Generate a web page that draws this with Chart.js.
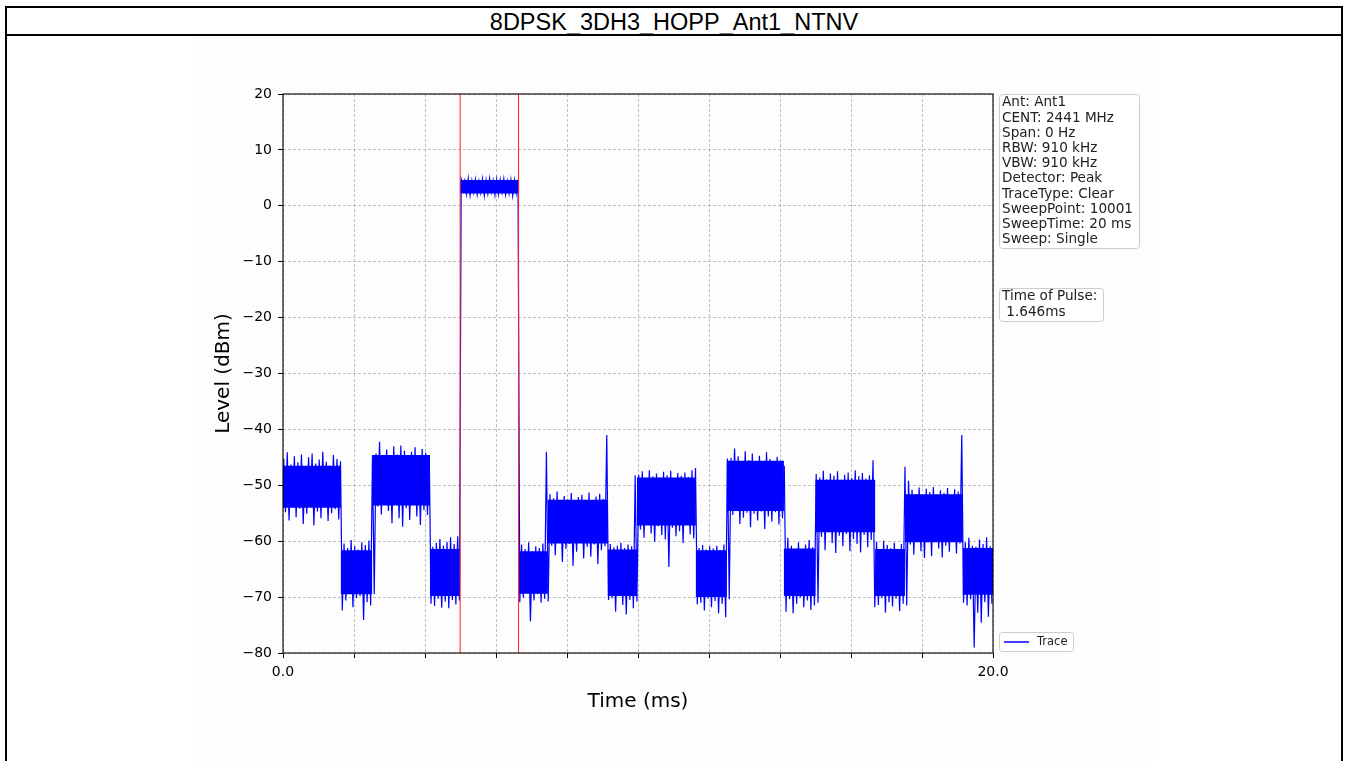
<!DOCTYPE html>
<html>
<head>
<meta charset="utf-8">
<title>8DPSK_3DH3_HOPP_Ant1_NTNV</title>
<script src="https://cdn.jsdelivr.net/npm/chart.js@4/dist/chart.umd.min.js"></script>
<style>
  body { margin: 0; background: #fff; width: 1346px; height: 761px; overflow: hidden; position: relative; }
  #frame { position: absolute; left: 5px; top: 6px; width: 1334px; height: 800px; border: 2px solid #000; }
  #title { height: 26px; border-bottom: 2px solid #000; text-align: center; font: 23.5px "Liberation Sans", Arial, sans-serif; line-height: 28px; color: #000; }
  #figbg { position: absolute; left: 192px; top: 36px; width: 961px; height: 725px; background: #fdfdfd; }
  #plot { position: absolute; left: 0; top: 0; }
</style>
</head>
<body>
<div id="frame"><div id="title">8DPSK_3DH3_HOPP_Ant1_NTNV</div></div>
<div id="figbg"></div>
<canvas id="plot" width="1346" height="761"></canvas>
<script>
// trace: max / min level in each 0.1 ms bin (dBm)
const binWidth = 0.1;
const binPeak = [
  -45.2, -44.1, -46.3, -44.8, -45.9, -44.5, -46.8, -45.0, -44.3, -46.1, -45.4, -44.0, -45.8, -46.5, -44.6, -45.3,
  -45.7,
  -60.4, -61.2, -59.8, -60.9, -61.5, -60.2, -60.7, -59.9,
  -44.8,
  -44.3, -42.2, -44.9, -43.6, -45.1, -43.0, -44.5, -42.9, -43.8, -45.3, -44.0, -43.2, -44.7, -43.5, -44.2,
  -44.6,
  -61.0, -60.3, -59.6, -60.8, -60.1, -59.3, -60.5, -59.1,
  4.8, 4.6, 4.9, 4.5, 4.7, 4.4, 4.8, 4.6, 4.9, 4.5, 4.7, 4.6, 4.8, 4.4, 4.7, 4.6,
  4.7,
  -60.6, -61.4, -60.2, -61.8, -60.9, -61.2, -60.4,
  -44.0,
  -51.6, -52.3, -51.1, -52.8, -51.9, -52.5, -51.4, -53.0, -52.1, -51.7, -52.6, -51.3, -52.9, -52.0, -51.5, -52.4,
  -41.0,
  -60.5, -61.1, -60.8, -60.3, -61.2, -60.6, -60.9,
  -48.2,
  -48.1, -47.5, -48.8, -47.3, -48.4, -47.9, -48.6, -47.6, -48.2, -47.4, -48.9, -47.8, -48.3, -47.7, -48.5, -47.3,
  -46.9,
  -61.2, -60.7, -61.5, -60.9, -61.3, -60.8, -61.6, -60.6,
  -45.2,
  -45.1, -43.4, -44.8, -46.2, -43.9, -45.5, -44.3, -46.0, -44.7, -45.8, -44.1, -45.3, -46.4, -44.9, -45.6,
  -46.5,
  -59.4, -60.8, -61.5, -60.2, -61.9, -60.6, -59.8, -61.1,
  -48.0,
  -48.6, -47.4, -48.9, -47.9, -48.3, -47.5, -49.0, -48.1, -47.7, -48.7, -47.3, -48.4, -47.8, -48.8, -48.2,
  -45.5,
  -60.1, -61.4, -59.9, -60.7, -61.2, -60.3, -61.6, -60.5,
  -46.7,
  -49.2, -50.8, -51.6, -50.4, -51.9, -50.6, -51.2, -50.3, -52.0, -50.9, -51.4, -50.5, -51.8, -50.7, -51.1,
  -41.0,
  -60.2, -59.4, -60.8, -61.0, -59.7, -60.5, -59.3, -60.9
];
const binFloor = [
  -54.8, -56.3, -53.9, -55.7, -54.2, -56.9, -55.1, -53.6, -57.2, -54.7, -55.9, -53.8, -56.4, -55.0, -54.3, -56.1,
  -72.4,
  -70.6, -69.4, -71.8, -70.2, -69.8, -74.1, -70.9, -71.5,
  -69.5,
  -53.8, -55.2, -52.9, -54.6, -56.8, -53.5, -55.9, -57.4, -54.1, -56.2, -53.3, -55.6, -57.1, -54.4, -55.3,
  -71.2,
  -71.6, -70.3, -71.9, -70.8, -72.0, -70.5, -71.3, -70.6,
  3.6, 2.1, 1.9, 2.4, 2.0, 2.3, 1.8, 2.2, 2.5, 1.9, 2.1, 2.4, 2.0, 2.2, 1.8, 2.3,
  -70.9,
  -70.1, -69.2, -74.3, -70.6, -69.5, -71.0, -70.3,
  -70.8,
  -60.8, -62.5, -59.9, -63.7, -61.4, -60.5, -64.4, -61.9, -60.2, -63.1, -61.0, -62.8, -60.6, -64.1, -61.6, -60.9,
  -70.5,
  -70.2, -72.6, -69.7, -71.4, -73.1, -70.5, -72.0,
  -70.8,
  -57.9, -59.4, -56.8, -58.6, -60.1, -57.3, -58.9, -59.7, -64.6, -57.6, -59.1, -58.2, -60.3, -57.0, -58.8, -59.5,
  -71.3,
  -71.0, -72.4, -70.3, -71.8, -70.7, -72.9, -71.2, -73.6,
  -70.4,
  -55.3, -54.6, -56.9, -55.8, -54.9, -57.5, -55.1, -56.3, -54.7, -57.8, -55.6, -56.5, -54.8, -57.0, -55.9,
  -72.6,
  -70.4, -72.9, -71.2, -70.1, -71.8, -70.6, -72.3, -71.5,
  -71.0,
  -59.2, -61.6, -58.4, -60.3, -62.1, -59.0, -60.9, -58.7, -61.8, -59.6, -60.5, -62.0, -58.9, -61.1, -59.8,
  -71.8,
  -71.4, -70.2, -72.8, -70.9, -71.7, -70.3, -72.5, -71.2,
  -71.5,
  -60.6, -62.4, -59.7, -61.8, -63.0, -60.2, -62.7, -59.5, -61.3, -62.9, -60.8, -61.9, -59.9, -62.2, -60.4,
  -71.0,
  -71.5, -70.4, -79.0, -72.8, -74.6, -70.9, -73.5, -71.2
];

// hop segments: start time (ms) and the dense part of the noise band (dBm)
const segStart = [0, 1.63, 2.51, 4.14, 4.99, 6.65, 7.46, 9.15, 9.97, 11.63, 12.5, 14.11, 15.0, 16.68, 17.52, 19.15];
const segCoreTop = [-46.5, -61.6, -44.6, -61.4, 4.6, -61.8, -52.6, -61.5, -48.6, -61.6, -45.6, -61.3, -49.0, -61.4, -51.6, -61.2];
const segCoreBottom = [-54.0, -69.5, -53.6, -69.8, 2.2, -69.4, -60.4, -69.8, -57.2, -70.0, -54.6, -69.8, -58.4, -69.8, -60.2, -69.6];

// pulse start / stop markers (ms)
const pulseMarkers = [4.99, 6.636];

// axis ranges and labelled x ticks
const timeRange = [0, 20];
const levelRange = [-80, 20];
const xLabelledTicks = [0, 20];

// text boxes right of the plot
const infoLines = ["Ant: Ant1", "CENT: 2441 MHz", "Span: 0 Hz", "RBW: 910 kHz", "VBW: 910 kHz",
  "Detector: Peak", "TraceType: Clear", "SweepPoint: 10001", "SweepTime: 20 ms", "Sweep: Single"];
const pulseLines = ["Time of Pulse:", " 1.646ms"];
const legendLabel = "Trace";

// min/max per bin, like a peak detector trace
const tracePoints = [];
binPeak.forEach((v, i) => {
  tracePoints.push({ x: i * binWidth + 0.02, y: v });
  tracePoints.push({ x: i * binWidth + 0.07, y: binFloor[i] });
});

// solid core of each hop, as a step band
const coreTop = [];
const coreBottom = [];
segStart.forEach((s, i) => {
  const e = i + 1 < segStart.length ? segStart[i + 1] : timeRange[1];
  coreTop.push({ x: s, y: segCoreTop[i] }, { x: e, y: segCoreTop[i] });
  coreBottom.push({ x: s, y: segCoreBottom[i] }, { x: e, y: segCoreBottom[i] });
});

const markerSets = pulseMarkers.map((m) => ({
  data: [{ x: m, y: levelRange[0] }, { x: m, y: levelRange[1] }],
  borderColor: "#ff2020",
  borderWidth: 1,
  pointRadius: 0,
  order: 0,
}));

const fontFam = "'DejaVu Sans', sans-serif";

function roundBox(ctx, x, y, w, h, r) {
  ctx.beginPath();
  ctx.moveTo(x + r, y);
  ctx.arcTo(x + w, y, x + w, y + h, r);
  ctx.arcTo(x + w, y + h, x, y + h, r);
  ctx.arcTo(x, y + h, x, y, r);
  ctx.arcTo(x, y, x + w, y, r);
  ctx.closePath();
  ctx.fillStyle = "rgba(255,255,255,0.85)";
  ctx.fill();
  ctx.strokeStyle = "#cccccc";
  ctx.lineWidth = 1;
  ctx.stroke();
}

const decorPlugin = {
  id: "decor",
  afterDraw(chart) {
    const ctx = chart.ctx;
    const a = chart.chartArea;
    ctx.save();
    // axes box
    ctx.strokeStyle = "#000";
    ctx.lineWidth = 1.1;
    ctx.strokeRect(a.left, a.top, a.right - a.left, a.bottom - a.top);

    // info box
    const bx = a.right + 6;
    roundBox(ctx, bx + 0.5, a.top + 0.5, 140, 154, 3);
    ctx.fillStyle = "#222";
    ctx.font = "13.6px " + fontFam;
    ctx.textBaseline = "top";
    infoLines.forEach((t, i) => ctx.fillText(t, bx + 3, a.top + 2 + i * 15.2));

    roundBox(ctx, bx + 0.5, a.top + 194.5, 104, 33, 3);
    ctx.fillStyle = "#222";
    pulseLines.forEach((t, i) => ctx.fillText(t, bx + 3, a.top + 196 + i * 15.2));

    // legend
    roundBox(ctx, bx + 0.5, a.bottom - 20.5, 74, 19, 3);
    ctx.strokeStyle = "blue";
    ctx.lineWidth = 1.5;
    ctx.beginPath();
    ctx.moveTo(bx + 5, a.bottom - 11);
    ctx.lineTo(bx + 30, a.bottom - 11);
    ctx.stroke();
    ctx.fillStyle = "#222";
    ctx.font = "11.5px " + fontFam;
    ctx.textBaseline = "middle";
    ctx.fillText(legendLabel, bx + 38, a.bottom - 11);
    ctx.restore();
  },
};

new Chart(document.getElementById("plot"), {
  type: "line",
  data: {
    datasets: [
      {
        label: legendLabel,
        data: tracePoints,
        borderColor: "#0000ff",
        borderWidth: 1.2,
        pointRadius: 0,
        tension: 0,
        order: 1,
      },
      {
        data: coreTop,
        borderWidth: 0,
        borderColor: "#0000ff",
        pointRadius: 0,
        order: 2,
      },
      {
        data: coreBottom,
        borderWidth: 0,
        borderColor: "#0000ff",
        backgroundColor: "#0000ff",
        pointRadius: 0,
        fill: "-1",
        order: 2,
      },
      ...markerSets,
    ],
  },
  options: {
    responsive: false,
    animation: false,
    devicePixelRatio: 1,
    layout: { padding: { left: 208, top: 94, right: 353, bottom: 43 } },
    plugins: { legend: { display: false }, tooltip: { enabled: false } },
    scales: {
      x: {
        type: "linear",
        min: timeRange[0],
        max: timeRange[1],
        afterFit: (s) => { s.height = 65; },
        ticks: {
          stepSize: 2,
          autoSkip: false,
          maxRotation: 0,
          padding: 6,
          color: "#000",
          font: { family: fontFam, size: 14 },
          callback: (v) => (xLabelledTicks.includes(v) ? v.toFixed(1) : ""),
        },
        grid: { color: "#b0b0b0", lineWidth: 0.8, tickLength: 5, tickColor: "#000", tickWidth: 1 },
        border: { display: false, dash: [3, 2] },
        title: { display: true, text: "Time (ms)", color: "#000", font: { family: fontFam, size: 20 } },
      },
      y: {
        type: "linear",
        min: levelRange[0],
        max: levelRange[1],
        afterFit: (s) => { s.width = 75; },
        ticks: {
          stepSize: 10,
          padding: 6,
          color: "#000",
          font: { family: fontFam, size: 14 },
          callback: (v) => (v < 0 ? "\u2212" + Math.abs(v) : String(v)),
        },
        grid: { color: "#b0b0b0", lineWidth: 0.8, tickLength: 5, tickColor: "#000", tickWidth: 1 },
        border: { display: false, dash: [3, 2] },
        title: { display: true, text: "Level (dBm)", color: "#000", font: { family: fontFam, size: 20 } },
      },
    },
  },
  plugins: [decorPlugin],
});
</script>
</body>
</html>
